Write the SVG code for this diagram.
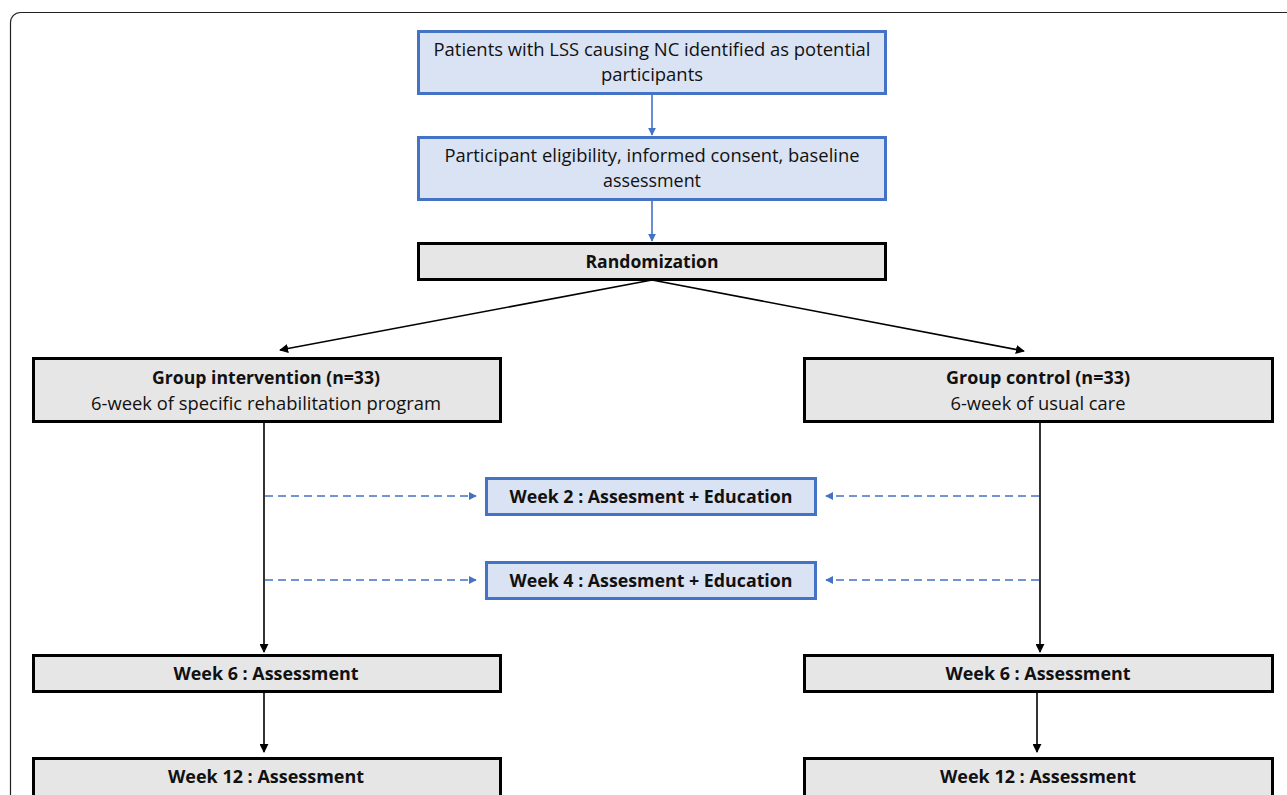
<svg xmlns="http://www.w3.org/2000/svg" width="1287" height="795" viewBox="0 0 1287 795">
<defs>
<style>
.blue{fill:#dae3f3;stroke:#4472c4;stroke-width:3}
.grey{fill:#e7e6e6;stroke:#000;stroke-width:3}
text{font-family:"Open Sans","Noto Sans",sans-serif;font-size:18px;fill:#111;text-anchor:middle}
.b{font-weight:bold}
.cb{stroke:#4472c4;stroke-width:1.6;fill:none}
.ck{stroke:#000;stroke-width:1.6;fill:none}
.dash{stroke:#4472c4;stroke-width:1.6;fill:none;stroke-dasharray:8 5}
</style>
<marker id="ab" viewBox="0 0 10 10" refX="9" refY="5" markerWidth="8" markerHeight="8" markerUnits="userSpaceOnUse" orient="auto"><path d="M0,0L10,5L0,10z" fill="#4472c4"/></marker>
<marker id="ak" viewBox="0 0 10 10" refX="9" refY="5" markerWidth="9" markerHeight="9" markerUnits="userSpaceOnUse" orient="auto"><path d="M0,0L10,5L0,10z" fill="#000"/></marker>
</defs>
<rect width="1287" height="795" fill="#fff"/>
<rect x="10.5" y="12.5" width="1300" height="800" rx="10" fill="none" stroke="#222" stroke-width="1.2"/>
<g id="connectors">
<line class="cb" x1="652" y1="94" x2="652" y2="135" marker-end="url(#ab)"/>
<line class="cb" x1="652" y1="200" x2="652" y2="241" marker-end="url(#ab)"/>
<line class="ck" x1="652" y1="280" x2="280" y2="350" marker-end="url(#ak)"/>
<line class="ck" x1="652" y1="280" x2="1024" y2="351" marker-end="url(#ak)"/>
<line class="ck" x1="264" y1="422" x2="264" y2="652" marker-end="url(#ak)"/>
<line class="ck" x1="1040" y1="422" x2="1040" y2="652" marker-end="url(#ak)"/>
<line class="dash" x1="265" y1="496" x2="476" y2="496" marker-end="url(#ab)"/>
<line class="dash" x1="1039" y1="496" x2="826" y2="496" marker-end="url(#ab)"/>
<line class="dash" x1="265" y1="580" x2="476" y2="580" marker-end="url(#ab)"/>
<line class="dash" x1="1039" y1="580" x2="826" y2="580" marker-end="url(#ab)"/>
<line class="ck" x1="264" y1="693" x2="264" y2="752" marker-end="url(#ak)"/>
<line class="ck" x1="1037" y1="693" x2="1037" y2="752" marker-end="url(#ak)"/>
</g>
<g id="n1"><rect class="blue" x="418.5" y="31.5" width="467" height="62"/>
<text x="652" y="56" textLength="437" lengthAdjust="spacingAndGlyphs">Patients with LSS causing NC identified as potential</text>
<text x="652" y="81" textLength="102" lengthAdjust="spacingAndGlyphs">participants</text></g>
<g id="n2"><rect class="blue" x="418.5" y="137.5" width="467" height="62"/>
<text x="652" y="162" textLength="415" lengthAdjust="spacingAndGlyphs">Participant eligibility, informed consent, baseline</text>
<text x="652" y="187" textLength="98" lengthAdjust="spacingAndGlyphs">assessment</text></g>
<g id="n3"><rect class="grey" x="418.5" y="243.5" width="467" height="36"/>
<text class="b" x="652" y="268" textLength="133" lengthAdjust="spacingAndGlyphs">Randomization</text></g>
<g id="n4"><rect class="grey" x="33.5" y="358.5" width="467" height="63"/>
<text class="b" x="266" y="384" textLength="228" lengthAdjust="spacingAndGlyphs">Group intervention (n=33)</text>
<text x="266" y="410" textLength="350" lengthAdjust="spacingAndGlyphs">6-week of specific rehabilitation program</text></g>
<g id="n5"><rect class="grey" x="804.5" y="358.5" width="468" height="63"/>
<text class="b" x="1038" y="384" textLength="184" lengthAdjust="spacingAndGlyphs">Group control (n=33)</text>
<text x="1038" y="410" textLength="175" lengthAdjust="spacingAndGlyphs">6-week of usual care</text></g>
<g id="n6"><rect class="blue" x="486.5" y="478.5" width="329" height="36"/>
<text class="b" x="651" y="503" textLength="283" lengthAdjust="spacingAndGlyphs">Week 2 : Assesment + Education</text></g>
<g id="n7"><rect class="blue" x="486.5" y="562.5" width="329" height="36"/>
<text class="b" x="651" y="587" textLength="283" lengthAdjust="spacingAndGlyphs">Week 4 : Assesment + Education</text></g>
<g id="n8"><rect class="grey" x="33.5" y="655.5" width="467" height="36"/>
<text class="b" x="266" y="680" textLength="185" lengthAdjust="spacingAndGlyphs">Week 6 : Assessment</text></g>
<g id="n9"><rect class="grey" x="804.5" y="655.5" width="468" height="36"/>
<text class="b" x="1038" y="680" textLength="185" lengthAdjust="spacingAndGlyphs">Week 6 : Assessment</text></g>
<g id="n10"><rect class="grey" x="33.5" y="758.5" width="467" height="50"/>
<text class="b" x="266" y="783" textLength="196" lengthAdjust="spacingAndGlyphs">Week 12 : Assessment</text></g>
<g id="n11"><rect class="grey" x="804.5" y="758.5" width="468" height="50"/>
<text class="b" x="1038" y="783" textLength="196" lengthAdjust="spacingAndGlyphs">Week 12 : Assessment</text></g>
</svg>
